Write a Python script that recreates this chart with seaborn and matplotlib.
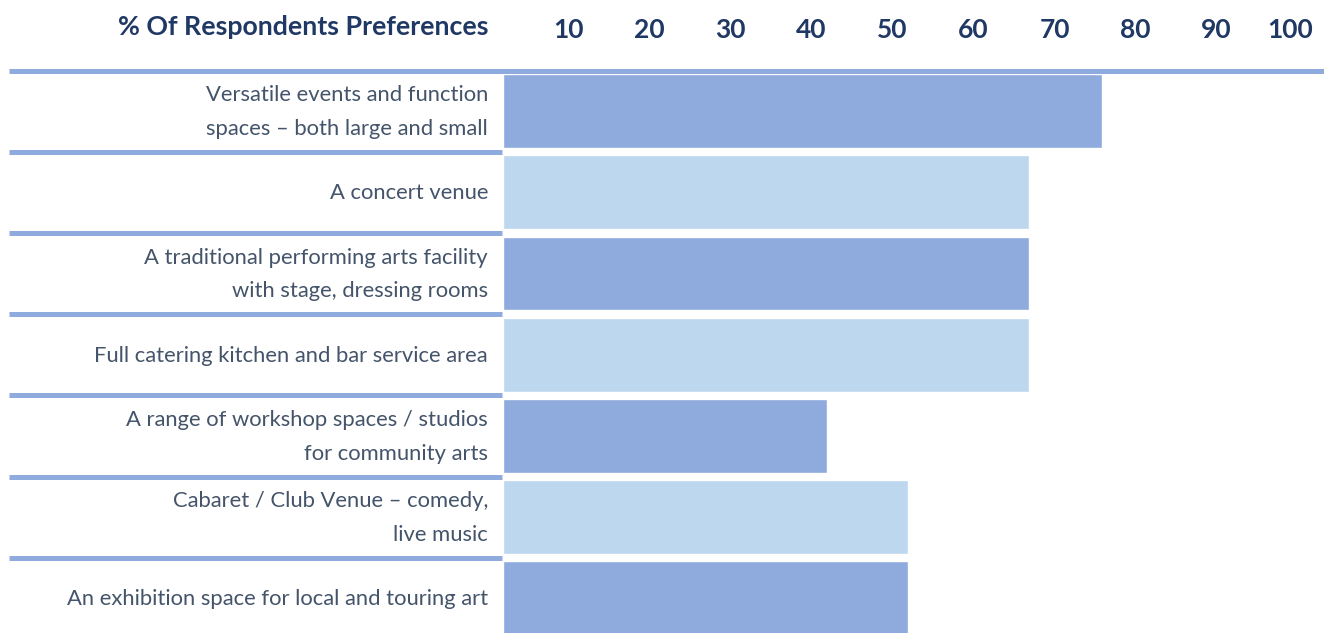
import matplotlib
matplotlib.use("Agg")
import matplotlib.pyplot as plt
from matplotlib.lines import Line2D
import seaborn as sns
import pandas as pd

categories = [
    "Versatile events and function\nspaces \u2013 both large and small",
    "A concert venue",
    "A traditional performing arts facility\nwith stage, dressing rooms",
    "Full catering kitchen and bar service area",
    "A range of workshop spaces / studios\nfor community arts",
    "Cabaret / Club Venue \u2013 comedy,\nlive music",
    "An exhibition space for local and touring art",
]
values = [74, 65, 65, 65, 40, 50, 50]
tick_values = [10, 20, 30, 40, 50, 60, 70, 80, 90, 100]
tick_labels = [str(v) for v in tick_values]
title = "% Of Respondents Preferences"

DARK = "#8FAADC"
LIGHT = "#BDD7EE"
NAVY = "#203864"
LABEL = "#44546A"
colors = [DARK if i % 2 == 0 else LIGHT for i in range(len(categories))]

sns.set_theme(style="white")
plt.rcParams["font.family"] = ["Lato", "DejaVu Sans"]

W, H = 1324, 633
fig = plt.figure(figsize=(W / 100, H / 100), dpi=100)

left_px, right_px = 503, 1324
top_line_px = 70.5
pitch = 81.2
bottom_px = top_line_px + pitch * len(categories)
ax = fig.add_axes([left_px / W, 1 - bottom_px / H, (right_px - left_px) / W, (bottom_px - top_line_px) / H])

df = pd.DataFrame({"cat": categories, "val": values})
sns.barplot(data=df, x="val", y="cat", hue="cat", palette=colors, orient="h",
            width=0.91, legend=False, ax=ax, saturation=1)

ax.set_xlim(0, 101.4)
ax.set_ylim(len(categories) - 0.5, -0.5)
for s in ax.spines.values():
    s.set_visible(False)

ax.xaxis.tick_top()
ax.set_xticks(tick_values)
ax.set_xticklabels(tick_labels, fontsize=19, fontweight="bold", color=NAVY, ha="right")
ax.tick_params(axis="x", length=0, pad=20.5)
ax.set_xlabel("")
ax.set_ylabel("")
ax.set_yticks([])

# y labels
for i, c in enumerate(categories):
    ax.text(-1.85, i + 0.01, c, ha="right", va="center", fontsize=15.8, color=LABEL,
            linespacing=1.85, transform=ax.transData, clip_on=False)

# separator lines
lw = 5 * 72 / 100
for i in range(len(categories)):
    y = i - 0.5
    if i == 0:
        ax.add_line(Line2D([-61.0, 101.4], [y, y], color=DARK, lw=lw, clip_on=False,
                           solid_capstyle="butt"))
    else:
        ax.add_line(Line2D([-61.0, -0.1], [y, y], color=DARK, lw=lw, clip_on=False,
                           solid_capstyle="butt"))

fig.text(488 / W, 1 - 27 / H, title, ha="right", va="center", fontsize=19.3,
         fontweight="bold", color=NAVY)

fig.savefig("out.png", dpi=100)
